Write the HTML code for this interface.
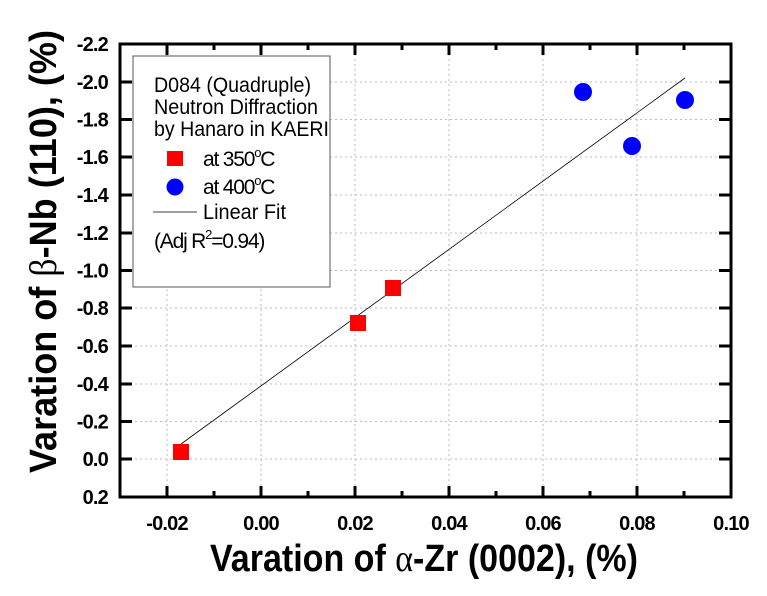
<!DOCTYPE html>
<html><head><meta charset="utf-8"><style>html,body{margin:0;padding:0;background:#fff}svg{display:block}</style></head>
<body>
<svg width="767" height="596" viewBox="0 0 767 596" xmlns="http://www.w3.org/2000/svg" font-family="Liberation Sans, Arial, sans-serif">
<g stroke="#bbb" stroke-width="1" stroke-dasharray="2,3">
<line x1="167" y1="44" x2="167" y2="497"/><line x1="261" y1="44" x2="261" y2="497"/><line x1="355" y1="44" x2="355" y2="497"/><line x1="449" y1="44" x2="449" y2="497"/><line x1="543" y1="44" x2="543" y2="497"/><line x1="637" y1="44" x2="637" y2="497"/>
<line x1="120" y1="459" x2="731" y2="459"/><line x1="120" y1="421.5" x2="731" y2="421.5"/><line x1="120" y1="384" x2="731" y2="384"/><line x1="120" y1="346" x2="731" y2="346"/><line x1="120" y1="308" x2="731" y2="308"/><line x1="120" y1="270.5" x2="731" y2="270.5"/><line x1="120" y1="233" x2="731" y2="233"/><line x1="120" y1="195" x2="731" y2="195"/><line x1="120" y1="157" x2="731" y2="157"/><line x1="120" y1="119.5" x2="731" y2="119.5"/><line x1="120" y1="82" x2="731" y2="82"/>
</g>
<rect x="133" y="56" width="197" height="231" fill="#fff" stroke="#555" stroke-width="1"/>
<g font-size="21" fill="#000">
<text x="154" y="92" textLength="157" lengthAdjust="spacingAndGlyphs">D084 (Quadruple)</text>
<text x="154" y="114" textLength="164" lengthAdjust="spacingAndGlyphs">Neutron Diffraction</text>
<text x="154" y="136" textLength="175" lengthAdjust="spacingAndGlyphs">by Hanaro in KAERI</text>
<text x="203" y="166" letter-spacing="-1.2">at 350<tspan font-size="13" dy="-9">o</tspan><tspan dy="9">C</tspan></text>
<text x="203" y="194" letter-spacing="-1.2">at 400<tspan font-size="13" dy="-9">o</tspan><tspan dy="9">C</tspan></text>
<text x="203" y="219" textLength="83" lengthAdjust="spacingAndGlyphs">Linear Fit</text>
<text x="154" y="248" letter-spacing="-1.2">(Adj R<tspan font-size="13" dy="-9">2</tspan><tspan dy="9">=0.94)</tspan></text>
</g>
<rect x="167" y="151" width="16" height="15" fill="#f00"/>
<circle cx="175" cy="187" r="8.5" fill="#00f"/>
<line x1="153" y1="212" x2="197" y2="212" stroke="#000" stroke-width="0.8"/>
<line x1="181" y1="444" x2="685" y2="78" stroke="#000" stroke-width="0.8"/>
<rect x="173" y="444" width="16" height="16" fill="#f00"/>
<rect x="350" y="315" width="16" height="16" fill="#f00"/>
<rect x="385" y="280" width="16" height="16" fill="#f00"/>
<circle cx="583" cy="92" r="9" fill="#00f"/>
<circle cx="632" cy="146" r="9" fill="#00f"/>
<circle cx="685" cy="100" r="9" fill="#00f"/>
<rect x="120" y="44" width="611" height="453" fill="none" stroke="#000" stroke-width="3"/>
<g stroke="#000" stroke-width="3">
<path d="M167 497v-11M261 497v-11M355 497v-11M449 497v-11M543 497v-11M637 497v-11M214 497v-6M308 497v-6M402 497v-6M496 497v-6M590 497v-6M684 497v-6"/>
<path d="M167 44v11M261 44v11M355 44v11M449 44v11M543 44v11M637 44v11M214 44v6M308 44v6M402 44v6M496 44v6M590 44v6M684 44v6"/>
<path d="M120 459h12M120 421.5h12M120 384h12M120 346h12M120 308h12M120 270.5h12M120 233h12M120 195h12M120 157h12M120 119.5h12M120 82h12"/>
<path d="M731 459h-12M731 421.5h-12M731 384h-12M731 346h-12M731 308h-12M731 270.5h-12M731 233h-12M731 195h-12M731 157h-12M731 119.5h-12M731 82h-12"/>
</g>
<g font-size="20" font-weight="bold" text-anchor="end" letter-spacing="-0.8">
<text x="108" y="504">0.2</text><text x="108" y="466">0.0</text><text x="108" y="428.5">-0.2</text><text x="108" y="391">-0.4</text><text x="108" y="353">-0.6</text><text x="108" y="315">-0.8</text><text x="108" y="277.5">-1.0</text><text x="108" y="240">-1.2</text><text x="108" y="202">-1.4</text><text x="108" y="164">-1.6</text><text x="108" y="126.5">-1.8</text><text x="108" y="89">-2.0</text><text x="108" y="51">-2.2</text>
</g>
<g font-size="20" font-weight="bold" text-anchor="middle" letter-spacing="-0.8">
<text x="167" y="530">-0.02</text><text x="261" y="530">0.00</text><text x="355" y="530">0.02</text><text x="449" y="530">0.04</text><text x="543" y="530">0.06</text><text x="637" y="530">0.08</text><text x="731" y="530">0.10</text>
</g>
<text x="210" y="571" font-size="38" font-weight="bold" textLength="428" lengthAdjust="spacingAndGlyphs">Varation of <tspan font-family="Liberation Serif, serif" font-weight="normal">α</tspan>-Zr (0002), (%)</text>
<text transform="translate(56,473) rotate(-90)" font-size="38" font-weight="bold" textLength="443" lengthAdjust="spacingAndGlyphs">Varation of <tspan font-family="Liberation Serif, serif" font-weight="normal">β</tspan>-Nb (110), (%)</text>
</svg>
</body></html>
